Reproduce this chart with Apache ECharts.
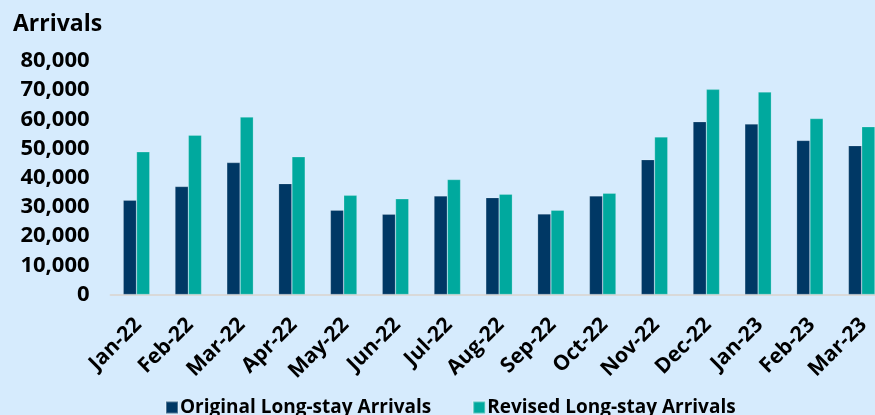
<!DOCTYPE html>
<html>
<head>
<meta charset="utf-8">
<script src="https://cdn.jsdelivr.net/npm/echarts@6/dist/echarts.min.js"></script>
<style>
html,body{margin:0;padding:0;background:#D6EBFD;}
#chart{width:875px;height:415px;}
</style>
</head>
<body>
<div id="chart"></div>
<script>
var categories = ['Jan-22','Feb-22','Mar-22','Apr-22','May-22','Jun-22','Jul-22','Aug-22','Sep-22','Oct-22','Nov-22','Dec-22','Jan-23','Feb-23','Mar-23'];
var originalArrivals = [32300, 37000, 45200, 38000, 28900, 27500, 33800, 33200, 27600, 33800, 46200, 59200, 58400, 52800, 51000];
var revisedArrivals = [48900, 54600, 60800, 47200, 34000, 32800, 39400, 34400, 28900, 34700, 54000, 70300, 69400, 60300, 57500];
var seriesNames = ['Original Long-stay Arrivals', 'Revised Long-stay Arrivals'];
var yAxisTitle = 'Arrivals';

var chart = echarts.init(document.getElementById('chart'), null, {renderer: 'canvas'});
var font = "'Open Sans', sans-serif";
chart.setOption({
  backgroundColor: '#D6EBFD',
  animation: false,
  title: {
    text: yAxisTitle,
    left: 8, top: 8,
    textStyle: {fontFamily: font, fontWeight: 'bold', fontSize: 23, color: '#000'}
  },
  legend: {
    left: 160, top: 393,
    itemWidth: 12, itemHeight: 12, itemGap: 41,
    icon: 'rect',
    textStyle: {fontFamily: font, fontWeight: 'bold', fontSize: 19, color: '#000', padding: [0,0,0,-3]},
    data: seriesNames
  },
  grid: {left: 110.6, width: 777, top: 61, height: 233.5, containLabel: false, outerBoundsMode: 'none'},
  xAxis: {
    type: 'category',
    data: categories,
    axisLine: {lineStyle: {color: '#D9D9D9', width: 2}},
    axisTick: {show: false},
    axisLabel: {
      interval: 0, rotate: 45, margin: 14,
      verticalAlign: 'top', align: 'right', padding: [0, 8, 0, 0],
      fontFamily: font, fontWeight: 'bold', fontSize: 21, color: '#000'
    }
  },
  yAxis: {
    type: 'value', min: 0, max: 80000, interval: 10000,
    splitLine: {show: false},
    axisLine: {show: false},
    axisTick: {show: false},
    axisLabel: {
      margin: 21,
      fontFamily: font, fontWeight: 'bold', fontSize: 22, color: '#000',
      formatter: function (v) { return v.toLocaleString('en-US'); }
    }
  },
  series: [
    {
      name: seriesNames[0], type: 'bar', data: originalArrivals,
      barWidth: 13.3, barGap: '0%',
      itemStyle: {color: '#003865', borderColor: 'rgba(255,255,255,0.3)', borderWidth: 0.6}
    },
    {
      name: seriesNames[1], type: 'bar', data: revisedArrivals,
      barWidth: 13.3, barGap: '0%',
      itemStyle: {color: '#00A99E', borderColor: 'rgba(255,255,255,0.35)', borderWidth: 0.6}
    }
  ]
});
</script>
</body>
</html>
